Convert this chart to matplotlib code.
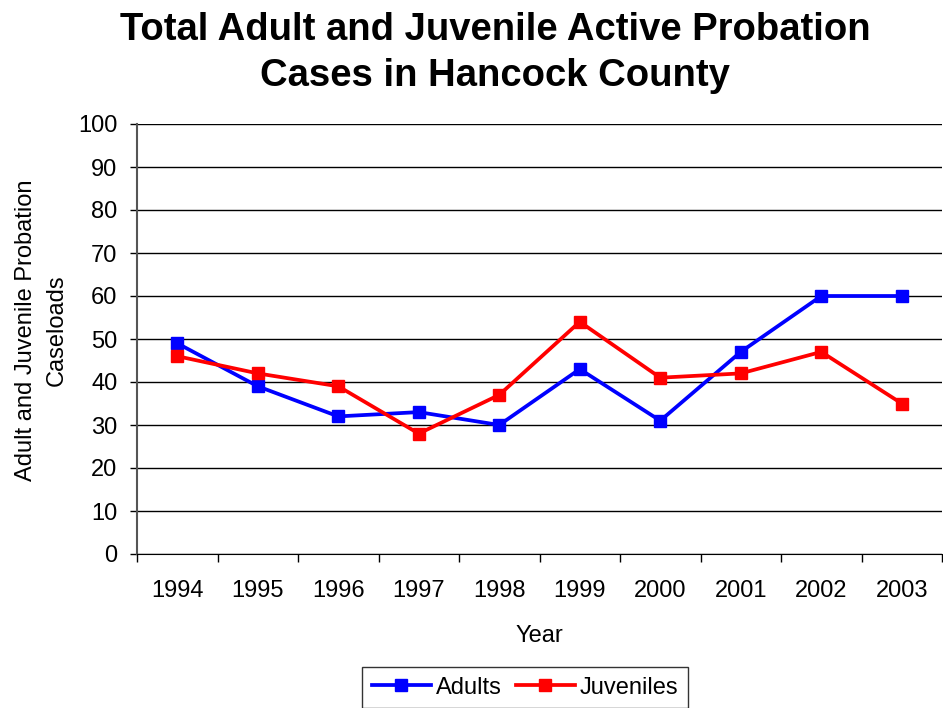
import numpy as np
import matplotlib.pyplot as plt

plt.rcParams['font.family'] = ['Liberation Sans', 'DejaVu Sans']

# Data
years = ['1994', '1995', '1996', '1997', '1998', '1999', '2000', '2001', '2002', '2003']
adults = [49, 39, 32, 33, 30, 43, 31, 47, 60, 60]
juveniles = [46, 42, 39, 28, 37, 54, 41, 42, 47, 35]

fig = plt.figure(figsize=(9.43, 7.08), dpi=100)
ax = fig.add_axes([137 / 943, 1 - 554 / 708, 805 / 943, 430 / 708])

x = np.arange(len(years))
ax.plot(x, adults, color='#0000ff', lw=2.7, marker='s', ms=8.5, label='Adults')
ax.plot(x, juveniles, color='#ff0000', lw=2.7, marker='s', ms=8.5, label='Juveniles')

ax.set_xlim(-0.5, len(years) - 0.5)
ax.set_ylim(0, 100)
ax.set_yticks(np.arange(0, 101, 10))
ax.yaxis.grid(True, color='black', lw=1)
ax.set_axisbelow(True)

# category labels centred, tick marks between categories
ax.set_xticks(x)
ax.set_xticklabels(years)
ax.set_xticks(np.arange(-0.5, len(years)), minor=True)
ax.tick_params(axis='x', which='major', length=0, pad=19, labelsize=17)
ax.tick_params(axis='x', which='minor', length=6, width=1, direction='out')
ax.tick_params(axis='y', length=5, width=1, direction='out', labelsize=17, pad=9)

for side in ['top', 'right']:
    ax.spines[side].set_visible(False)
ax.spines['left'].set_color('#555555')
ax.spines['left'].set_linewidth(1.5)
ax.spines['bottom'].set_color('black')

ax.set_xlabel('Year', fontsize=17, labelpad=16)
fig.text(0.044, 0.534, 'Adult and Juvenile Probation\nCaseloads', rotation=90,
         ha='center', va='center', fontsize=17, linespacing=1.55)

fig.text(0.525, 0.925, 'Total Adult and Juvenile Active Probation\nCases in Hancock County',
         ha='center', va='center', fontsize=27.5, fontweight='bold', linespacing=1.35)

leg = ax.legend(loc='upper center', bbox_to_anchor=((525 - 137) / 805, -0.236), ncol=2,
                fontsize=17, frameon=True, fancybox=False, edgecolor='black',
                handlelength=2.5, columnspacing=0.6, handletextpad=0.2, borderpad=0.4)
leg.get_frame().set_linewidth(1)

fig.savefig('out.png', dpi=100)
